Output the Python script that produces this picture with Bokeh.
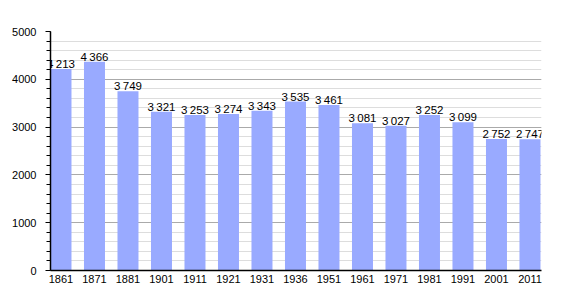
from bokeh.plotting import figure
from bokeh.models import Range1d, FixedTicker, SingleIntervalTicker, ColumnDataSource
from bokeh.core.properties import value
from bokeh.embed import file_html
from bokeh.resources import INLINE

years = ["1861", "1871", "1881", "1901", "1911", "1921", "1931", "1936",
         "1951", "1961", "1971", "1981", "1991", "2001", "2011"]
population = [4213, 4366, 3749, 3321, 3253, 3274, 3343, 3535,
              3461, 3081, 3027, 3252, 3099, 2752, 2747]
y_ticks = [0, 1000, 2000, 3000, 4000, 5000]

xs = list(range(len(years)))
labels = ["{:,}".format(v).replace(",", "\u2009") for v in population]
src = ColumnDataSource(dict(x=xs, top=population, label=labels))

FONT = "Liberation Sans"

p = figure(width=570, height=300, output_backend="svg", toolbar_location=None,
           x_range=Range1d(-0.313, 14.344), y_range=Range1d(0, 5000),
           min_border_left=50, min_border_right=29, min_border_top=31, min_border_bottom=30)
p.outline_line_color = None
p.background_fill_color = "white"
p.border_fill_color = "white"

p.vbar(x="x", top="top", width=0.627, source=src, fill_color="#99aaff", line_color=None)
p.text(x="x", y="top", text="label", source=src, text_align="center",
       text_baseline="bottom", text_font=value(FONT), text_font_size="11.5px",
       text_color="black", y_offset=1)

# x axis
p.xaxis.ticker = FixedTicker(ticks=xs)
p.xaxis.major_label_overrides = {i: y for i, y in enumerate(years)}
p.xaxis.major_tick_line_color = None
p.xaxis.minor_tick_line_color = None
p.xaxis.major_tick_out = 0
p.xaxis.major_tick_in = 0
p.xaxis.axis_line_color = "black"
p.xaxis.axis_line_width = 1.5
p.xaxis.major_label_text_font = FONT
p.xaxis.major_label_text_font_size = "11px"
p.xaxis.major_label_text_color = "black"
p.xaxis.major_label_standoff = 4
p.xgrid.grid_line_color = None

# y axis
p.yaxis.ticker = SingleIntervalTicker(interval=1000, num_minor_ticks=5)
p.yaxis.axis_line_color = "black"
p.yaxis.axis_line_width = 1.5
p.yaxis.major_tick_in = 0
p.yaxis.major_tick_out = 5
p.yaxis.minor_tick_in = 0
p.yaxis.minor_tick_out = 4
p.yaxis.major_tick_line_color = "black"
p.yaxis.minor_tick_line_color = "black"
p.yaxis.major_label_text_font = FONT
p.yaxis.major_label_text_font_size = "11px"
p.yaxis.major_label_text_color = "black"
p.yaxis.major_label_standoff = 9
p.ygrid.ticker = SingleIntervalTicker(interval=1000, num_minor_ticks=5)
p.ygrid.grid_line_color = "#aaaaaa"
p.ygrid.minor_grid_line_color = "#dddddd"
p.ygrid.level = "underlay"

open("out.html", "w").write(file_html(p, INLINE))
